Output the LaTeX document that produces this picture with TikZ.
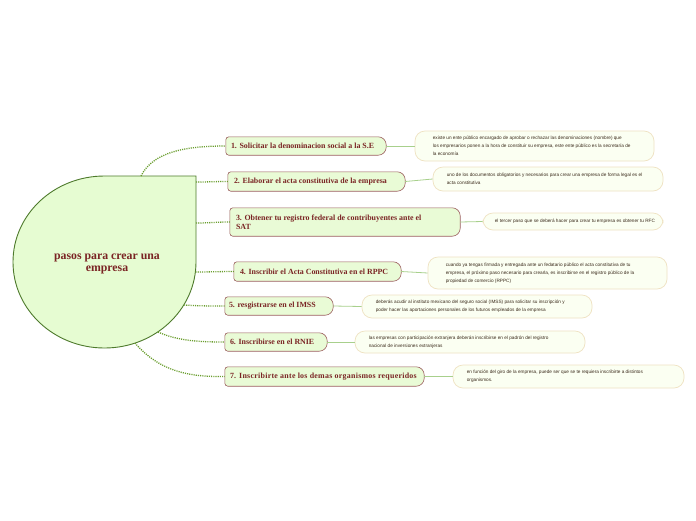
\documentclass[tikz,border=0pt]{standalone}
\usepackage{fontspec}
\setmainfont{Liberation Serif}
\newfontfamily\descfont{Liberation Sans}
\usetikzlibrary{calc}
\definecolor{cfill}{HTML}{E6FCD2}
\definecolor{cborder}{HTML}{4E7A2C}
\definecolor{redtext}{HTML}{7A2424}
\definecolor{bfill}{HTML}{E9FBD6}
\definecolor{bborder}{HTML}{9B5E5E}
\definecolor{dfill}{HTML}{FBFFF2}
\definecolor{dborder}{HTML}{EFE2C2}
\definecolor{dotgreen}{HTML}{6A9E2E}
\definecolor{linegreen}{HTML}{A8D08C}
\definecolor{desctext}{HTML}{3A2A1A}
\tikzset{
  centershape/.style={fill=cfill, draw=cborder, line width=0.9pt},
  centertext/.style={font=\fontsize{11.8}{12.5}\selectfont\bfseries, text=redtext, align=center, inner sep=0pt},
  bbox/.style={draw=none, inner sep=0pt, rectangle},
  bshape/.style={fill=bfill, draw=bborder, line width=0.6pt},
  btext/.style={font=\fontsize{7.9}{9}\selectfont\bfseries, text=redtext, align=left, inner sep=0pt},
  dbox/.style={fill=dfill, draw=dborder, line width=0.7pt, rounded corners=10pt, inner sep=0pt, rectangle},
  dtext/.style={font=\descfont\fontsize{4.7}{8}\selectfont, text=desctext, align=left, inner sep=0pt},
  dotline/.style={draw=dotgreen, line width=1.3pt, dash pattern=on 1.1pt off 1.1pt},
  dline/.style={draw=linegreen, line width=0.8pt}
}
\begin{document}
\begin{tikzpicture}[x=1pt,y=1pt]
\useasboundingbox[fill=white] (0,0) rectangle (696,-520);

% central teardrop
\path[centershape] (196,-262) arc[start angle=0,end angle=-270,x radius=91.5,y radius=86] -- (196,-176) -- cycle;
\node[centertext] (c) at (107,-264) {pasos para crear una\\empresa};
\coordinate (s1) at (141,-176);
\coordinate (s2) at (196,-182);
\coordinate (s3) at (196,-223);
\coordinate (s4) at (195.5,-272);
\coordinate (s5) at (184,-305);
\coordinate (s6) at (158,-332);
\coordinate (s7) at (135,-343);

% branch boxes
\node[bbox, minimum width=160pt, minimum height=18pt] (b1) at (306,-146) {};
\node[bbox, minimum width=177pt, minimum height=19pt] (b2) at (316.5,-181.5) {};
\node[bbox, minimum width=230pt, minimum height=28pt] (b3) at (345,-222) {};
\node[bbox, minimum width=167pt, minimum height=19pt] (b4) at (317.5,-271.5) {};
\node[bbox, minimum width=108pt, minimum height=18pt] (b5) at (279,-306) {};
\node[bbox, minimum width=102pt, minimum height=18pt] (b6) at (276,-342) {};
\node[bbox, minimum width=199pt, minimum height=19pt] (b7) at (324.5,-376.5) {};
\foreach \n in {b1,b2,b3,b4,b5,b6,b7}
  \path[bshape] (\n.south) [rounded corners=3pt] -| (\n.north west) -- (\n.north) [rounded corners=8pt] -| (\n.south east) -- cycle;

\node[btext, anchor=west] (bt1) at ($(b1.west)+(5,0)$) {1. Solicitar la denominacion social a la S.E};
\node[btext, anchor=west] (bt2) at ($(b2.west)+(6,0)$) {2. Elaborar el acta constitutiva de la empresa};
\node[btext, anchor=west] (bt3) at ($(b3.west)+(6,0)$) {3. Obtener tu registro federal de contribuyentes ante el\\SAT};
\node[btext, anchor=west] (bt4) at ($(b4.west)+(6,0)$) {4. Inscribir el Acta Constitutiva en el RPPC};
\node[btext, anchor=west] (bt5) at ($(b5.west)+(4,0)$) {5. resgistrarse en el IMSS};
\node[btext, anchor=west] (bt6) at ($(b6.west)+(5,0)$) {6. Inscribirse en el RNIE};
\node[btext, anchor=west] (bt7) at ($(b7.west)+(5,0)$) {\addfontfeature{LetterSpace=3.5}7. Inscribirte ante los demas organismos requeridos};

% description boxes
\node[dbox, minimum width=239pt, minimum height=30pt] (d1) at (534.5,-146) {};
\node[dbox, minimum width=230pt, minimum height=24pt] (d2) at (548,-179) {};
\node[dbox, minimum width=180pt, minimum height=17pt] (d3) at (573,-221.5) {};
\node[dbox, minimum width=239pt, minimum height=32pt] (d4) at (547.5,-273) {};
\node[dbox, minimum width=230pt, minimum height=23pt] (d5) at (477,-306.5) {};
\node[dbox, minimum width=230pt, minimum height=22pt] (d6) at (470,-342) {};
\node[dbox, minimum width=231pt, minimum height=23pt] (d7) at (568.5,-376.5) {};

\node[dtext, anchor=west] (dt1) at ($(d1.west)+(18,0)$) {existe un ente público encargado de aprobar o rechazar las denominaciones (nombre) que\\los empresarios ponen a la hora de constituir su empresa, este ente público es la secretaría de\\la economía};
\node[dtext, anchor=west] (dt2) at ($(d2.west)+(14,0)$) {uno de los documentos obligatorios y necesarios para crear una empresa de forma legal es el\\acta constitutiva};
\node[dtext, anchor=west] (dt3) at ($(d3.west)+(12,0)$) {el tercer paso que se deberá hacer para crear tu empresa es obtener tu RFC};
\node[dtext, anchor=west] (dt4) at ($(d4.west)+(18,0)$) {cuando ya tengas firmada y entregada ante un fedatario público el acta constitutiva de tu\\empresa, el próximo paso necesario para crearla, es inscribirse en el registro público de la\\propiedad de comercio (RPPC)};
\node[dtext, anchor=west] (dt5) at ($(d5.west)+(14,0)$) {deberás acudir al instituto mexicano del seguro social (IMSS) para solicitar su inscripción y\\poder hacer las aportaciones personales de los futuros empleados de la empresa};
\node[dtext, anchor=west] (dt6) at ($(d6.west)+(14,0)$) {las empresas con participación extranjera deberán inscribirse en el padrón del registro\\nacional de inversiones extranjeras};
\node[dtext, anchor=west] (dt7) at ($(d7.west)+(14,0)$) {en función del giro de la empresa, puede ser que se te requiera inscribirte a distintos\\organismos.};

% connectors center -> branches
\draw[dotline] (s1) .. controls (153,-152) and (185,-146) .. (b1.west);
\draw[dotline] (s2) .. controls (210,-182) and (215,-181.5) .. (b2.west);
\draw[dotline] (s3) .. controls (210,-223) and (215,-222) .. (b3.west);
\draw[dotline] (s4) .. controls (210,-272) and (220,-271.5) .. (b4.west);
\draw[dotline] (s5) .. controls (200,-306) and (210,-306) .. (b5.west);
\draw[dotline] (s6) .. controls (178,-341) and (200,-342) .. (b6.west);
\draw[dotline] (s7) .. controls (160,-372) and (190,-377) .. (b7.west);

% connectors branches -> descriptions
\draw[dline] (b1.east) -- (d1.west);
\draw[dline] (b2.east) -- (d2.west);
\draw[dline] (b3.east) -- (d3.west);
\draw[dline] (b4.east) -- (d4.west);
\draw[dline] (b5.east) -- (d5.west);
\draw[dline] (b6.east) -- (d6.west);
\draw[dline] (b7.east) -- (d7.west);
\end{tikzpicture}
\end{document}
